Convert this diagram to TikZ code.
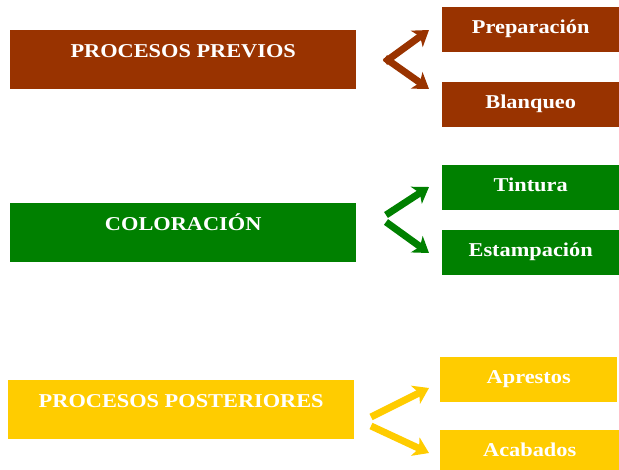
\documentclass[tikz,border=0pt]{standalone}
\usepackage{fontspec}
\setmainfont{Liberation Serif}
\newfontfamily\boxfont[FakeStretch=1.14]{Liberation Serif}
\usetikzlibrary{positioning,arrows.meta}
\definecolor{brownpv}{HTML}{993300}
\definecolor{greencl}{HTML}{008000}
\definecolor{yellowpp}{HTML}{FFCC00}

\begin{document}
\begin{tikzpicture}[x=1pt,y=-1pt,>={Stealth[length=15pt,width=20pt,inset=4pt]}]
\tikzset{
mainbox/.style={
  rectangle,
  anchor=north west,
  minimum width=346pt,
  minimum height=59pt,
  text height=13pt,
  text depth=18pt,
  inner sep=0pt,
  text=white,
  font=\boxfont\bfseries\fontsize{19.6}{22}\selectfont
  },
subbox/.style={
  rectangle,
  anchor=north west,
  minimum width=177pt,
  minimum height=45pt,
  text height=13pt,
  text depth=5pt,
  inner sep=0pt,
  text=white,
  font=\boxfont\bfseries\fontsize{19.6}{22}\selectfont
  },
fork/.style={
  line width=7pt,
  ->
  }
}
\useasboundingbox (0,0) rectangle (619,469);

\node[mainbox, fill=brownpv] (previos) at (10,30) {PROCESOS PREVIOS};
\node[subbox, fill=brownpv] (prep)  at (442,7)  {Preparación};
\node[subbox, fill=brownpv] (blanq) at (442,82) {Blanqueo};

\node[mainbox, fill=greencl] (color) at (10,203) {COLORACIÓN};
\node[subbox, fill=greencl] (tint)   at (442,165) {Tintura};
\node[subbox, fill=greencl] (estamp) at (442,230) {Estampación};

\node[mainbox, fill=yellowpp] (poster) at (8,380) {PROCESOS POSTERIORES};
\node[subbox, fill=yellowpp] (apres) at (440,357) {Aprestos};
\node[subbox, fill=yellowpp, minimum width=179pt] (acab) at (440,430) {Acabados};

% forks
\coordinate (previos-up) at (385,62);
\coordinate (previos-dn) at (385,58);
\coordinate (prep-tip)   at (429,30);
\coordinate (blanq-tip)  at (429,89);
\coordinate (color-up)   at (386,215);
\coordinate (color-dn)   at (386,222);
\coordinate (tint-tip)   at (429,187);
\coordinate (estamp-tip) at (429,253);
\coordinate (poster-up)  at (371,417);
\coordinate (poster-dn)  at (371,426);
\coordinate (apres-tip)  at (429,388);
\coordinate (acab-tip)   at (429,453);

\draw[fork, brownpv] (previos-up) -- (prep-tip);
\draw[fork, brownpv] (previos-dn) -- (blanq-tip);
\draw[fork, greencl] (color-up) -- (tint-tip);
\draw[fork, greencl] (color-dn) -- (estamp-tip);
\draw[fork, yellowpp] (poster-up) -- (apres-tip);
\draw[fork, yellowpp] (poster-dn) -- (acab-tip);

\end{tikzpicture}
\end{document}
